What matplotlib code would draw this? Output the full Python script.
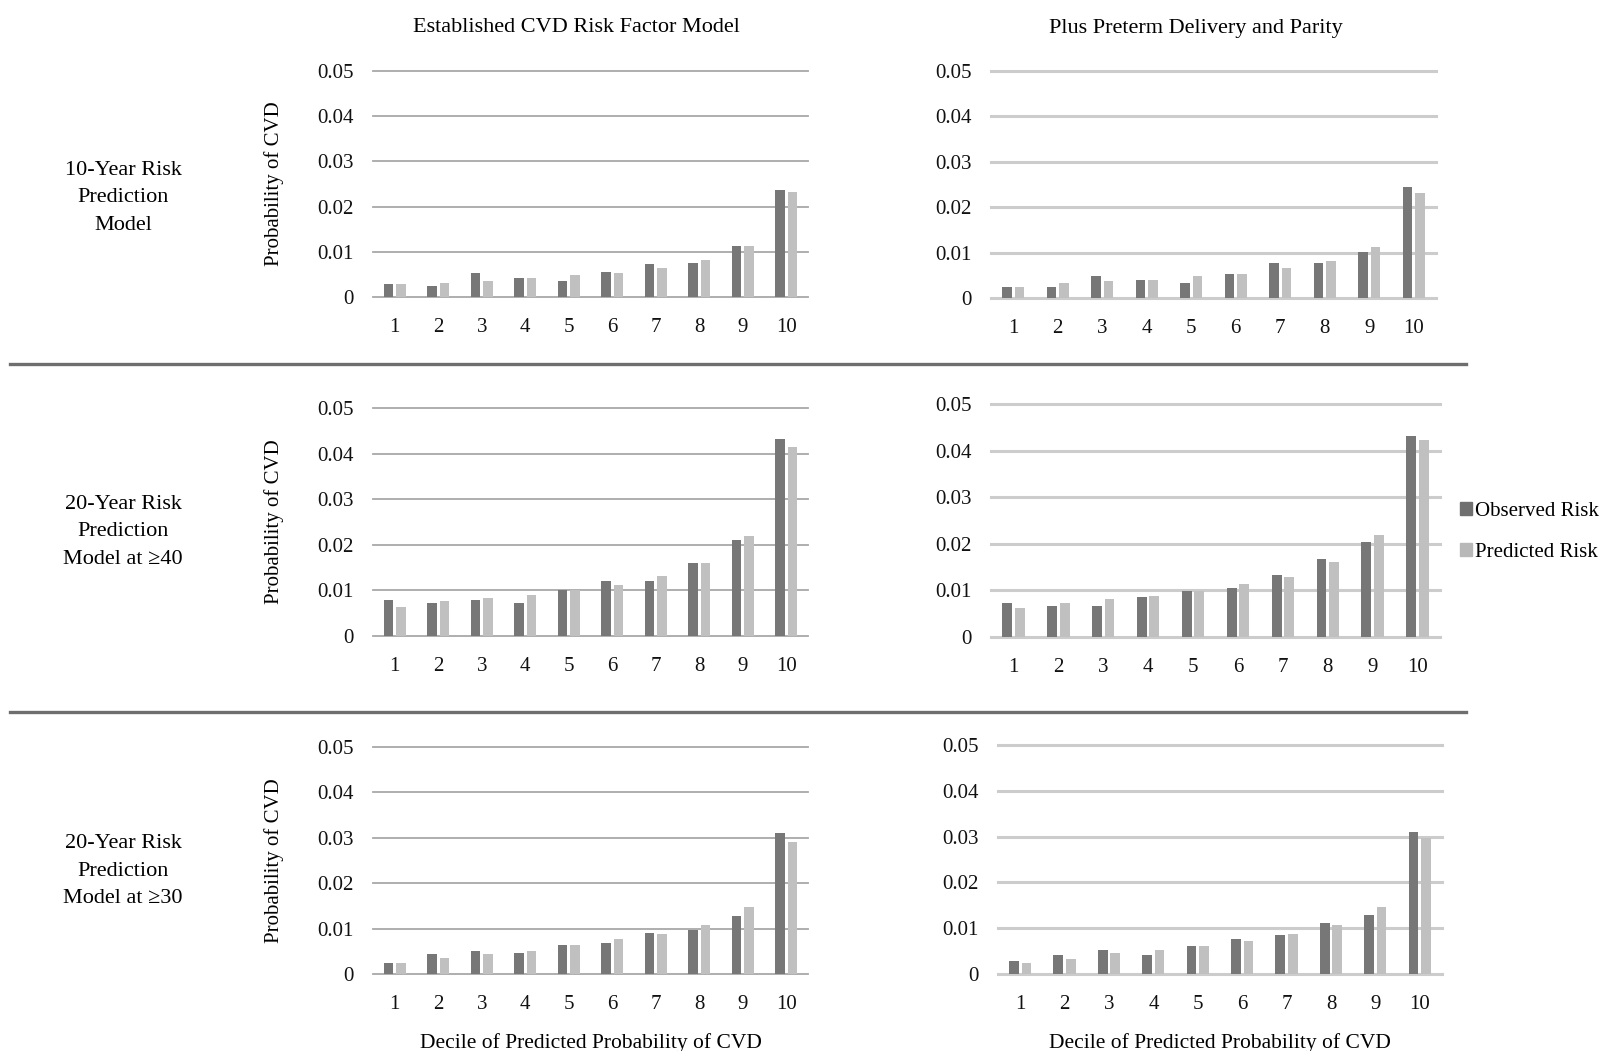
import numpy as np
import matplotlib.pyplot as plt
from matplotlib.patches import Patch
from matplotlib.lines import Line2D

plt.rcParams['font.family'] = ['Liberation Serif', 'DejaVu Serif']

# deciles on the x axis
deciles = [1, 2, 3, 4, 5, 6, 7, 8, 9, 10]
yticks = [0, 0.01, 0.02, 0.03, 0.04, 0.05]
ytick_labels = ['0', '0.01', '0.02', '0.03', '0.04', '0.05']

# 10-year model
obs_10_base = [0.0028, 0.0024, 0.0052, 0.0041, 0.0036, 0.0056, 0.0072, 0.0076, 0.0112, 0.0237]
pred_10_base = [0.0028, 0.0032, 0.0036, 0.0041, 0.0048, 0.0052, 0.0064, 0.0081, 0.0113, 0.0233]
obs_10_plus = [0.0025, 0.0025, 0.0049, 0.0040, 0.0032, 0.0052, 0.0076, 0.0076, 0.0101, 0.0244]
pred_10_plus = [0.0025, 0.0032, 0.0037, 0.0040, 0.0049, 0.0052, 0.0065, 0.0081, 0.0113, 0.0232]

# 20-year model at >=40
obs_40_base = [0.0080, 0.0072, 0.0080, 0.0072, 0.0101, 0.0120, 0.0120, 0.0160, 0.0211, 0.0431]
pred_40_base = [0.0063, 0.0076, 0.0084, 0.0091, 0.0101, 0.0111, 0.0131, 0.0160, 0.0219, 0.0415]
obs_40_plus = [0.0074, 0.0067, 0.0067, 0.0086, 0.0098, 0.0106, 0.0133, 0.0168, 0.0203, 0.0431]
pred_40_plus = [0.0063, 0.0074, 0.0082, 0.0089, 0.0098, 0.0114, 0.0129, 0.0160, 0.0219, 0.0423]

# 20-year model at >=30
obs_30_base = [0.0024, 0.0044, 0.0051, 0.0047, 0.0064, 0.0068, 0.0091, 0.0096, 0.0128, 0.0311]
pred_30_base = [0.0024, 0.0036, 0.0043, 0.0051, 0.0064, 0.0076, 0.0088, 0.0107, 0.0148, 0.0291]
obs_30_plus = [0.0028, 0.0041, 0.0053, 0.0041, 0.0061, 0.0077, 0.0085, 0.0112, 0.0128, 0.0310]
pred_30_plus = [0.0025, 0.0033, 0.0045, 0.0053, 0.0061, 0.0072, 0.0088, 0.0108, 0.0147, 0.0296]

col_titles = ['Established CVD Risk Factor Model', 'Plus Preterm Delivery and Parity']
row_labels = ['10-Year Risk\nPrediction\nModel',
              '20-Year Risk\nPrediction\nModel at \u226540',
              '20-Year Risk\nPrediction\nModel at \u226530']
xlabel = 'Decile of Predicted Probability of CVD'
ylabel = 'Probability of CVD'

OBS_C = '#777777'
PRED_C = '#c0c0c0'
W, H = 1606, 1051

fig = plt.figure(figsize=(W / 100, H / 100), dpi=100)


def px_axes(x0, x1, y0, y1):
    # pixel box (top origin) -> figure axes
    return fig.add_axes([x0 / W, 1 - y1 / H, (x1 - x0) / W, (y1 - y0) / H])


boxes = [
    [(373, 808, 71, 297), (991, 1436, 71, 298)],
    [(373, 808, 408, 636), (991, 1440, 404, 637)],
    [(373, 808, 747, 974), (998, 1442, 745, 974)],
]
data = [
    [(obs_10_base, pred_10_base), (obs_10_plus, pred_10_plus)],
    [(obs_40_base, pred_40_base), (obs_40_plus, pred_40_plus)],
    [(obs_30_base, pred_30_base), (obs_30_plus, pred_30_plus)],
]

x = np.array(deciles)
for r in range(3):
    for c in range(2):
        ax = px_axes(*boxes[r][c])
        obs, pred = data[r][c]
        ax.bar(x - 0.14, obs, width=0.22, color=OBS_C, zorder=3)
        ax.bar(x + 0.14, pred, width=0.22, color=PRED_C, zorder=3)
        ax.set_xlim(0.5, 10.5)
        ax.set_ylim(0, 0.05)
        ax.set_xticks(deciles)
        ax.set_yticks(yticks, ytick_labels)
        for s in ax.spines.values():
            s.set_visible(False)
        ax.tick_params(length=0, labelsize=15, colors='#111111')
        ax.tick_params(axis='y', pad=14)
        ax.tick_params(axis='x', pad=15)
        if c == 0:
            ax.yaxis.grid(True, color='#a8a8a8', linewidth=1.3)
        else:
            ax.yaxis.grid(True, color='#cccccc', linewidth=2.2)
        for gl in ax.get_ygridlines():
            gl.set_clip_on(False)
        ax.set_axisbelow(True)
        if c == 0:
            ax.set_ylabel(ylabel, fontsize=15)
            ax.yaxis.set_label_coords(-0.205, 0.5)
        if r == 2:
            ax.set_xlabel(xlabel, fontsize=15.5, labelpad=14)

# column titles
fig.text(576 / W, 1 - 28 / H, col_titles[0], ha='center', va='center', fontsize=16)
fig.text(1196 / W, 1 - 28 / H, col_titles[1], ha='center', va='center', fontsize=16)

# row labels
for lbl, yc in zip(row_labels, [198, 532, 871]):
    fig.text(123 / W, 1 - yc / H, lbl, ha='center', va='center', fontsize=16,
             linespacing=1.6)

# separators between rows
for yc in [363.5, 711.5]:
    fig.add_artist(Line2D([10 / W, 1466 / W], [1 - yc / H, 1 - yc / H],
                          color='#6e6e6e', linewidth=2.4))

handles = [Patch(color='#6f6f6f'), Patch(color='#b8b8b8')]
fig.legend(handles, ['Observed Risk', 'Predicted Risk'], loc='center left',
           bbox_to_anchor=(1452 / W, 1 - 532 / H), frameon=False, fontsize=15,
           handlelength=0.55, handleheight=0.55, handletextpad=0.15,
           labelspacing=1.05, borderaxespad=0)

fig.savefig('out.png', dpi=100)
